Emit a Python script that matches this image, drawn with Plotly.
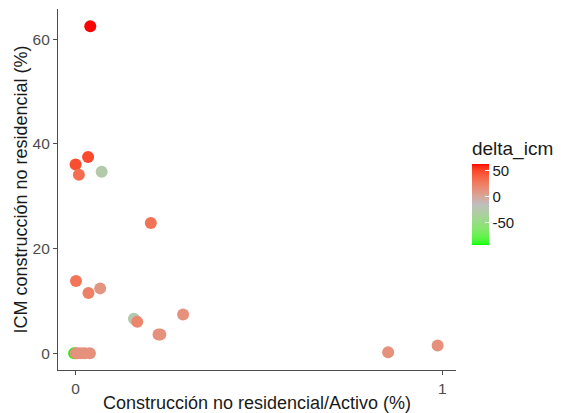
import numpy as np
import plotly.graph_objects as go

# Non-residential construction share of assets vs. its ICM, coloured by delta_icm
activo_pct = [0.040, 0.000, 0.034, 0.009, 0.071, 0.205, 0.001, 0.035, 0.067,
              0.159, 0.168, 0.226, 0.231, 0.293, 0.852, 0.987,
              -0.004, 0.000, 0.006, 0.015, 0.025, 0.039]
icm_pct = [62.5, 36.1, 37.5, 34.1, 34.7, 24.9, 13.8, 11.5, 12.4,
           6.6, 6.0, 3.6, 3.6, 7.4, 0.2, 1.5,
           0.0, 0.0, 0.0, 0.0, 0.0, 0.0]
delta_icm = [62, 46, 48, 32, -28, 30, 28, 22, 10,
             -26, 20, 13, 13, 13, 13, 13,
             -93, 13, 13, 13, 13, 13]

x_ticks = [0, 1]
y_ticks = [0, 20, 40, 60]
cbar_ticks = [-50, 0, 50]


# --- gradient green -> grey -> red, interpolated in CIE Lab ---
def srgb_to_lab(rgb):
    c = np.array(rgb, dtype=float) / 255.0
    c = np.where(c <= 0.04045, c / 12.92, ((c + 0.055) / 1.055) ** 2.4)
    m = np.array([[0.4124564, 0.3575761, 0.1804375],
                  [0.2126729, 0.7151522, 0.0721750],
                  [0.0193339, 0.1191920, 0.9503041]])
    xyz = m @ c / np.array([0.95047, 1.0, 1.08883])
    f = np.where(xyz > (6 / 29) ** 3, np.cbrt(xyz), xyz / (3 * (6 / 29) ** 2) + 4 / 29)
    return np.array([116 * f[1] - 16, 500 * (f[0] - f[1]), 200 * (f[1] - f[2])])


def lab_to_srgb(lab):
    L, a, b = lab
    fy = (L + 16) / 116
    fx = fy + a / 500
    fz = fy - b / 200
    f = np.array([fx, fy, fz])
    xyz = np.where(f > 6 / 29, f ** 3, 3 * (6 / 29) ** 2 * (f - 4 / 29))
    xyz = xyz * np.array([0.95047, 1.0, 1.08883])
    m = np.array([[3.2404542, -1.5371385, -0.4985314],
                  [-0.9692660, 1.8760108, 0.0415560],
                  [0.0556434, -0.2040259, 1.0572252]])
    c = m @ xyz
    c = np.where(c <= 0.0031308, 12.92 * c, 1.055 * np.clip(c, 0, None) ** (1 / 2.4) - 0.055)
    c = np.clip(np.round(c * 255), 0, 255).astype(int)
    return "rgb({},{},{})".format(*c)


anchors = [(0, 255, 0), (190, 190, 190), (255, 0, 0)]
labs = [srgb_to_lab(a) for a in anchors]
colorscale = []
n = 20
for seg in range(2):
    for i in range(n + (1 if seg == 1 else 0)):
        t = i / n
        lab = labs[seg] * (1 - t) + labs[seg + 1] * t
        colorscale.append([(seg + t) / 2, lab_to_srgb(lab)])

fig = go.Figure()
fig.add_trace(go.Scatter(
    x=activo_pct, y=icm_pct, mode="markers",
    marker=dict(
        size=12, color=delta_icm, colorscale=colorscale,
        cmin=-93, cmax=62, opacity=1, line=dict(width=0),
        colorbar=dict(
            title=dict(text="delta_icm", side="top",
                       font=dict(size=19, color="#1a1a1a")),
            tickvals=cbar_ticks, ticktext=[str(v) for v in cbar_ticks],
            ticks="inside", ticklen=4, tickcolor="white", tickwidth=1,
            tickfont=dict(size=15, color="#1a1a1a"),
            thickness=17, thicknessmode="pixels",
            len=108, lenmode="pixels",
            x=1.04, xanchor="left", y=0.345, yanchor="bottom",
            outlinewidth=0, xpad=0, ypad=0,
        ),
    ),
    showlegend=False,
    hoverinfo="x+y",
))

axis_common = dict(
    showgrid=False, zeroline=False, showline=True,
    linecolor="#4d4d4d", linewidth=1.2,
    ticks="outside", ticklen=4, tickcolor="#4d4d4d", tickwidth=1,
    tickfont=dict(size=15.5, color="#4d4d4d"),
    mirror=False, automargin=False,
)

fig.update_layout(
    width=565, height=413,
    margin=dict(l=58, r=109, t=9, b=43),
    paper_bgcolor="white", plot_bgcolor="white",
    font=dict(family="Liberation Sans, Arial, sans-serif"),
    xaxis=dict(axis_common, range=[-0.048, 1.037], tickvals=x_ticks,
               title=dict(text="Construcción no residencial/Activo (%)",
                          font=dict(size=18, color="#1a1a1a"), standoff=6)),
    yaxis=dict(axis_common, range=[-3.2, 65.8], tickvals=y_ticks,
               title=dict(text="ICM construcción no residencial (%)",
                          font=dict(size=18, color="#1a1a1a"), standoff=0)),
)

fig.write_html("out.html")
